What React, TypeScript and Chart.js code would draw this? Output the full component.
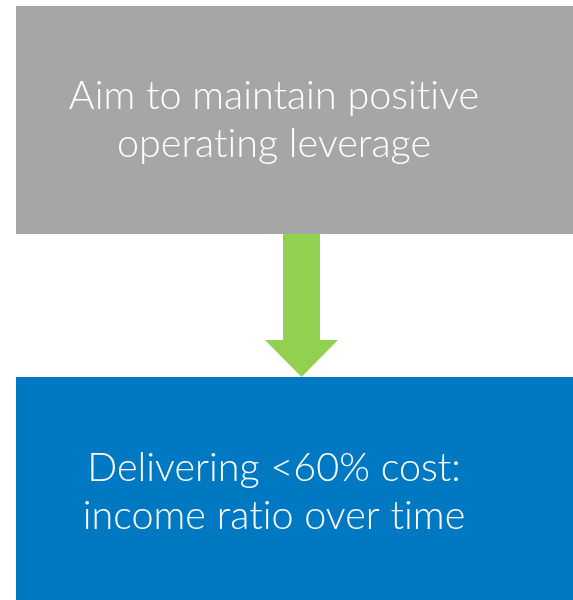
import React, { useEffect, useRef } from "react";
import { Chart, registerables } from "chart.js";

Chart.register(...registerables);

// Diagram content (values in the 573 x 600 diagram coordinate space)
const boxTexts: string[][] = [
  ["Aim to maintain positive", "operating leverage"],
  ["Delivering <60% cost:", "income ratio over time"],
];
const boxLeft = [16, 16];
const boxRight = [590, 590];
const boxTop = [6, 377];
const boxBottom = [234, 600];
const boxColors = ["#A6A6A6", "#0079C2"];
const textCenter = [274, 274];
const textBaselines = [
  [109, 157],
  [481, 529],
];
const arrowShaftX = [283, 320];
const arrowShaftY = [234, 340];
const arrowHeadX = [265, 338];
const arrowTip = [301.5, 377];
const arrowColor = "#92D050";

const diagramPlugin = {
  id: "diagram",
  afterDatasetsDraw(chart: any) {
    const { ctx } = chart;
    const xs = chart.scales.x;
    const ys = chart.scales.y;
    const px = (v: number) => xs.getPixelForValue(v);
    const py = (v: number) => ys.getPixelForValue(v);
    ctx.save();
    // boxes
    boxTexts.forEach((lines, i) => {
      ctx.fillStyle = boxColors[i];
      const x0 = px(boxLeft[i]);
      const x1 = px(boxRight[i]);
      const y0 = py(boxTop[i]);
      const y1 = py(boxBottom[i]);
      ctx.fillRect(x0, y0, x1 - x0, y1 - y0);
      ctx.fillStyle = "#FFFFFF";
      ctx.font = "300 39.5px Lato";
      try {
        (ctx as any).letterSpacing = "0.01px";
      } catch (e) {}
      ctx.textAlign = "center";
      ctx.textBaseline = "alphabetic";
      lines.forEach((t, j) => {
        ctx.fillText(t, px(textCenter[i]), py(textBaselines[i][j]));
      });
    });
    // arrow
    ctx.fillStyle = arrowColor;
    ctx.beginPath();
    ctx.moveTo(px(arrowShaftX[0]), py(arrowShaftY[0]));
    ctx.lineTo(px(arrowShaftX[1]), py(arrowShaftY[0]));
    ctx.lineTo(px(arrowShaftX[1]), py(arrowShaftY[1]));
    ctx.lineTo(px(arrowHeadX[1]), py(arrowShaftY[1]));
    ctx.lineTo(px(arrowTip[0]), py(arrowTip[1]));
    ctx.lineTo(px(arrowHeadX[0]), py(arrowShaftY[1]));
    ctx.lineTo(px(arrowShaftX[0]), py(arrowShaftY[1]));
    ctx.closePath();
    ctx.fill();
    ctx.restore();
  },
};

export default function App() {
  const ref = useRef<HTMLCanvasElement>(null);
  useEffect(() => {
    if (!ref.current) return;
    const chart = new Chart(ref.current, {
      type: "scatter",
      data: { datasets: [{ data: [], pointRadius: 0 }] },
      options: {
        animation: false,
        responsive: false,
        maintainAspectRatio: false,
        layout: { padding: 0 },
        plugins: { legend: { display: false }, tooltip: { enabled: false } },
        scales: {
          x: { type: "linear", min: 0, max: 573, display: false },
          y: { type: "linear", min: 0, max: 600, reverse: true, display: false },
        },
      },
      plugins: [diagramPlugin],
    });
    return () => chart.destroy();
  }, []);
  return (
    <div style={{ position: "fixed", left: 0, top: 0, width: 573, height: 600, background: "#FFFFFF" }}>
      <canvas ref={ref} width={573} height={600} style={{ display: "block" }} />
    </div>
  );
}
